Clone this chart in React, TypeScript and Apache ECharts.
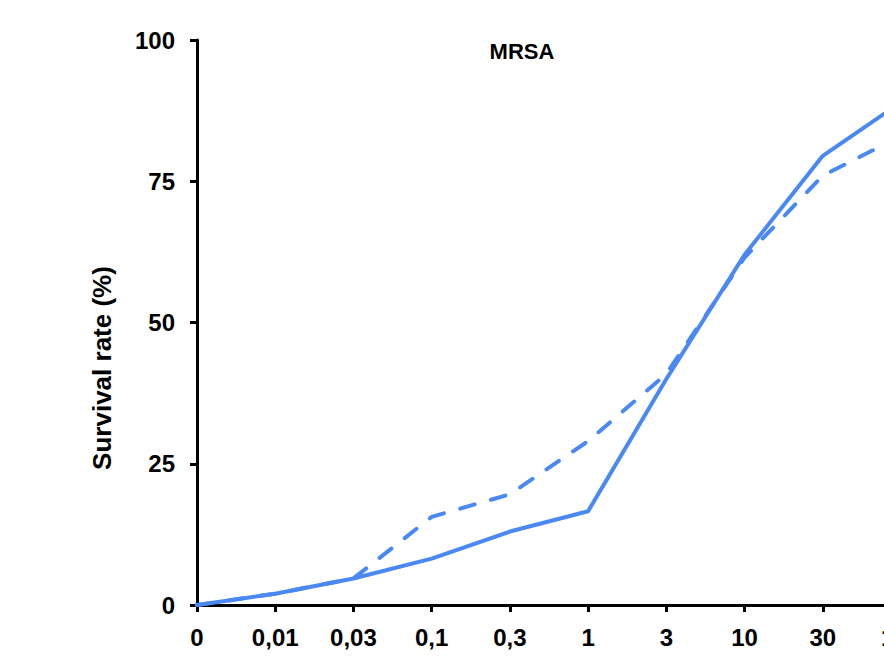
import React, { useEffect, useRef } from "react";
import * as echarts from "echarts";

const categories = ["0", "0,01", "0,03", "0,1", "0,3", "1", "3", "10", "30", "100"];
const solidSeries = [0, 2, 4.7, 8.2, 13, 16.6, 40, 62, 79.5, 89];
const dashedSeries = [0, 2, 4.7, 15.6, 19.6, 29, 40.9, 61.5, 76, 83];
const yTicks = { min: 0, max: 100, interval: 25 };
const titleText = "MRSA";
const yName = "Survival rate (%)";

const FONT = '"Liberation Sans", Arial, Helvetica, sans-serif';
const BLUE = "#4a88f4";

export default function App() {
  const ref = useRef<HTMLDivElement>(null);
  useEffect(() => {
    if (!ref.current) return;
    const chart = echarts.init(ref.current, null, { renderer: "svg" });
    chart.setOption({
      animation: false,
      backgroundColor: "#ffffff",
      graphic: [
        {
          type: "text",
          x: 522,
          y: 51,
          style: {
            text: titleText,
            fontFamily: FONT,
            fontSize: 22,
            fontWeight: "bold",
            fill: "#000",
            textAlign: "center",
            textVerticalAlign: "middle",
          },
        },
        {
          type: "text",
          x: 102,
          y: 368,
          rotation: Math.PI / 2,
          style: {
            text: yName,
            fontFamily: FONT,
            fontSize: 26,
            fontWeight: "bold",
            fill: "#000",
            textAlign: "center",
            textVerticalAlign: "middle",
          },
        },
      ],
      grid: { left: 197, top: 40, width: 704, height: 565, containLabel: false },
      xAxis: {
        type: "category",
        data: categories,
        boundaryGap: false,
        axisLine: { lineStyle: { color: "#000", width: 3 } },
        axisTick: { show: true, alignWithLabel: true, length: 7, lineStyle: { color: "#000", width: 3 } },
        axisLabel: {
          interval: 0,
          margin: 20,
          fontFamily: FONT,
          fontSize: 24,
          fontWeight: "bold",
          color: "#000",
        },
        splitLine: { show: false },
      },
      yAxis: {
        type: "value",
        min: yTicks.min,
        max: yTicks.max,
        interval: yTicks.interval,
        axisLine: { show: true, lineStyle: { color: "#000", width: 3 } },
        axisTick: { show: true, length: 7, lineStyle: { color: "#000", width: 3 } },
        axisLabel: {
          margin: 22,
          fontFamily: FONT,
          fontSize: 24,
          fontWeight: "bold",
          color: "#000",
        },
        splitLine: { show: false },
      },
      series: [
        {
          type: "line",
          data: dashedSeries,
          symbol: "none",
          lineStyle: { color: BLUE, width: 4, type: [15, 17], cap: "round", join: "round" },
          z: 2,
        },
        {
          type: "line",
          data: solidSeries,
          symbol: "none",
          lineStyle: { color: BLUE, width: 4, type: "solid", cap: "round", join: "round" },
          z: 3,
        },
      ],
    });
    return () => chart.dispose();
  }, []);
  return (
    <div style={{ position: "fixed", left: 0, top: 0, width: 884, height: 671, overflow: "hidden", background: "#fff" }}>
      <div ref={ref} style={{ width: 1000, height: 671 }} />
    </div>
  );
}
